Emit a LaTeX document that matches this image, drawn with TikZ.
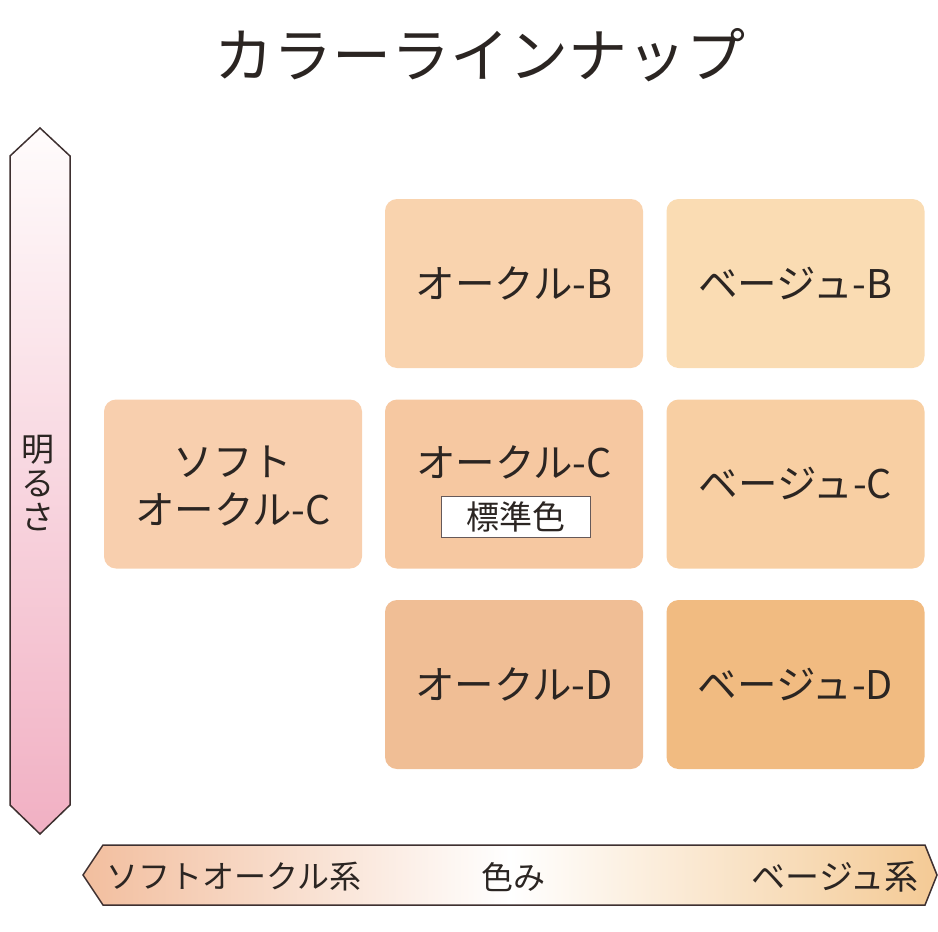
\documentclass[tikz,border=0pt]{standalone}
\usepackage{fontspec}
\newfontfamily\jp{Noto Sans CJK JP}
\usetikzlibrary{shapes.geometric}
\definecolor{txt}{HTML}{2B2522}
\definecolor{edge}{HTML}{3E3030}
\definecolor{cOB}{HTML}{F9D3AE}
\definecolor{cBB}{HTML}{FADCB3}
\definecolor{cSC}{HTML}{F8CFAE}
\definecolor{cOC}{HTML}{F6C8A1}
\definecolor{cBC}{HTML}{F8CFA3}
\definecolor{cOD}{HTML}{F0BE95}
\definecolor{cBD}{HTML}{F1BB81}
\definecolor{pinkbot}{HTML}{F1B0C3}
\definecolor{pinktop}{HTML}{FFFCFC}
\definecolor{hleft}{HTML}{F2BE9E}
\definecolor{hright}{HTML}{F4CA95}
\tikzset{
  shade box/.style={rounded corners=12pt, draw=none, minimum width=258pt, minimum height=169pt, inner sep=0pt, text=txt, font=\jp\fontsize{39.5}{48}\selectfont, align=center},
  boxtext/.style={text=txt, font=\jp\fontsize{39.5}{48}\selectfont, inner sep=0pt, align=center},
  tag/.style={draw=edge!80, line width=0.7pt, fill=white, minimum width=149pt, minimum height=41pt, inner sep=0pt, text=txt, font=\jp\fontsize{33}{38}\selectfont},
  axislbl/.style={text=txt, font=\jp\fontsize{32}{37}\selectfont, inner sep=0pt},
}
\begin{document}
\begin{tikzpicture}[x=1pt,y=-1pt]
\useasboundingbox (0,0) rectangle (938,932);
% title
\node[text=txt, font=\jp\fontsize{59}{64}\selectfont, inner sep=0pt] (title) at (480,55) {カラーラインナップ};
% vertical arrow
\shade[top color=pinktop, bottom color=pinkbot] (40,128) -- (70,156) -- (70,805) -- (40,834) -- (10,805) -- (10,156) -- cycle;
\draw[edge, line width=1.5pt, line join=miter] (40,128) -- (70,156) -- (70,805) -- (40,834) -- (10,805) -- (10,156) -- cycle;
\node[axislbl, align=center, font=\jp\fontsize{33}{37}\selectfont] (bright) at (38,483) {明\\[-3pt]る\\[-3pt]さ};
% horizontal arrow
\shade[left color=hleft, right color=hright, middle color=white] (83,875) -- (103,845) -- (925,845) -- (937,875) -- (925,905) -- (103,905) -- cycle;
\draw[edge, line width=1.5pt, line join=miter] (83,875) -- (103,845) -- (925,845) -- (937,875) -- (925,905) -- (103,905) -- cycle;
\node[axislbl, anchor=west] (soft) at (106,877) {ソフトオークル系};
\node[axislbl] (hue) at (513,877) {色み};
\node[axislbl, anchor=east, font=\jp\fontsize{34}{38}\selectfont] (beige) at (919,877) {ベージュ系};
% boxes
\node[shade box, fill=cOB] (OB) at (514,283.5) {オークル-B};
\node[shade box, fill=cBB] (BB) at (795.5,283.5) {ベージュ-B};
\node[shade box, fill=cSC] (SC) at (233,484) {};
\node[boxtext] (SClbl) at (233,486) {ソフト\\オークル-C};
\node[shade box, fill=cOC] (OC) at (514,484) {};
\node[boxtext] (OClbl) at (514,462) {オークル-C};
\node[tag] (std) at (515.5,516.5) {標準色};
\node[shade box, fill=cBC] (BC) at (795.5,484) {ベージュ-C};
\node[shade box, fill=cOD] (OD) at (514,684.5) {オークル-D};
\node[shade box, fill=cBD] (BD) at (795.5,684.5) {ベージュ-D};
\end{tikzpicture}
\end{document}
